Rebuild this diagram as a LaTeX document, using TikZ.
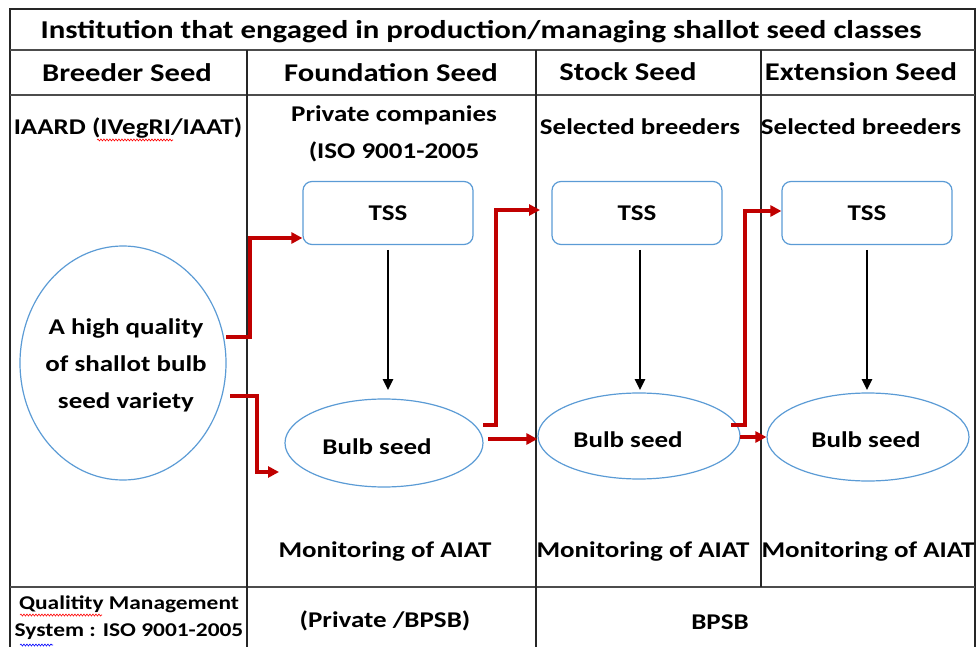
\documentclass[tikz,border=0pt]{standalone}
\usepackage{fontspec}
\setmainfont{Carlito}[FakeStretch=1.2]
\usetikzlibrary{shapes.geometric,arrows.meta,decorations.pathmorphing}
\definecolor{boxblue}{HTML}{5B9BD5}
\definecolor{arrred}{HTML}{C00000}
\tikzset{
  grid/.style={line width=1.3pt, black!85},
  thickgrid/.style={line width=2.2pt, black!70},
  tssbox/.style={draw=boxblue, line width=1.2pt, rounded corners=9pt, minimum width=170pt, minimum height=63pt, font=\bfseries\fontsize{22.5}{26}\selectfont},
  bulb/.style={draw=boxblue, line width=1.2pt, ellipse, minimum width=198pt, minimum height=88pt},
  lbl/.style={font=\bfseries\fontsize{22.5}{26}\selectfont, inner sep=0pt},
  hdr/.style={font=\bfseries\fontsize{25.5}{30}\selectfont, inner sep=0pt},
  small/.style={font=\bfseries\fontsize{19.5}{28}\selectfont, inner sep=0pt, align=center},
  redarr/.style={draw=arrred, line width=3.6pt, -{Triangle[length=11pt,width=11pt]}},
  blkarr/.style={draw=black, line width=2.5pt, -{Triangle[length=11pt,width=10pt]}},
  squig/.style={decorate, decoration={snake, amplitude=1pt, segment length=3pt}, line width=0.6pt}
}
\begin{document}
\begin{tikzpicture}[x=1pt,y=-1pt]
\useasboundingbox (0,0) rectangle (978,647);
% table grid
\draw[grid] (10,660) -- (10,9) -- (975,9) -- (975,660);
\draw[thickgrid] (10,50) -- (975,50);
\draw[thickgrid] (10,95) -- (975,95);
\draw[thickgrid] (10,587) -- (975,587);
\draw[grid] (247,50) -- (247,660);
\draw[grid] (536,50) -- (536,660);
\draw[grid] (761,50) -- (761,587);
% header texts
\node[hdr, font=\bfseries\fontsize{25.7}{30}\selectfont] (title) at (481,32) {Institution that engaged in production/managing shallot seed classes};
\node[hdr] (h1) at (127,73) {Breeder Seed};
\node[hdr] (h2) at (391,73) {Foundation Seed};
\node[hdr] (h3) at (628,72) {Stock Seed};
\node[hdr] (h4) at (861,72) {Extension Seed};
% institutions
\node[lbl] (i1) at (128,128) {IAARD (IVegRI/IAAT)};
\node[lbl] (i2a) at (394,115) {Private companies};
\node[lbl] (i2b) at (394,152) {(ISO 9001-2005};
\node[lbl] (i3) at (640,127) {Selected breeders};
\node[lbl] (i4) at (861,127) {Selected breeders};
\draw[red, squig] (97,140) -- (173,140);
% TSS boxes
\node[tssbox] (t1) at (388,213) {TSS};
\node[tssbox] (t2) at (637,213) {TSS};
\node[tssbox] (t3) at (867,213) {TSS};
% variety circle
\node[draw=boxblue, line width=1.2pt, ellipse, minimum width=206pt, minimum height=234pt] (var) at (123,363) {};
\node[lbl, align=center, font=\bfseries\fontsize{22.5}{37}\selectfont] (vartext) at (126,365) {A high quality\\of shallot bulb\\seed variety};
% bulb seeds
\node[bulb] (b1) at (384,443) {};
\node[lbl] (b1t) at (377,447) {Bulb seed};
\node[bulb, minimum width=202pt, minimum height=86pt] (b2) at (639,436) {};
\node[lbl] (b2t) at (628,440) {Bulb seed};
\node[bulb, minimum width=202pt, minimum height=88pt] (b3) at (868,437) {};
\node[lbl] (b3t) at (866,440) {Bulb seed};
% black arrows
\draw[blkarr] (388,250) -- (388,390);
\draw[blkarr] (640,250) -- (640,390);
\draw[blkarr] (867,250) -- (867,390);
% red arrows
\coordinate (r1s) at (226,337);
\coordinate (r2s) at (230,396);
\coordinate (r2e) at (279,472);
\draw[redarr] (r1s) -- (250,337) -- (250,238) -- (t1.west |- 0,238);
\draw[redarr] (r2s) -- (257,396) -- (257,472) -- (r2e);
\coordinate (r3s) at (483,425);
\coordinate (r3e) at (540,210);
\draw[redarr] (r3s) -- (496,425) -- (496,210) -- (r3e);
\coordinate (r4s) at (488,439);
\draw[redarr] (r4s) -- (b2.west |- 0,439);
\coordinate (r5s) at (731,425);
\draw[redarr] (r5s) -- (745,425) -- (745,211) -- (t3.west |- 0,211);
\coordinate (r6s) at (740,437);
\draw[redarr] (r6s) -- (b3.west |- 0,437);
% monitoring
\node[lbl] (m1) at (385,552) {Monitoring of AIAT};
\node[lbl] (m2) at (643,552) {Monitoring of AIAT};
\node[lbl] (m3) at (868,552) {Monitoring of AIAT};
% bottom row
\node[small] (q1) at (129,604) {Qualitity Management};
\node[small] (q2) at (129,632) {System : ISO 9001-2005};
\draw[red, squig] (20,615) -- (102,615);
\draw[blue, squig] (20,645) -- (53,645);
\node[lbl] (p1) at (385,621) {(Private /BPSB)};
\node[lbl] (p2) at (720,622) {BPSB};
\end{tikzpicture}
\end{document}
